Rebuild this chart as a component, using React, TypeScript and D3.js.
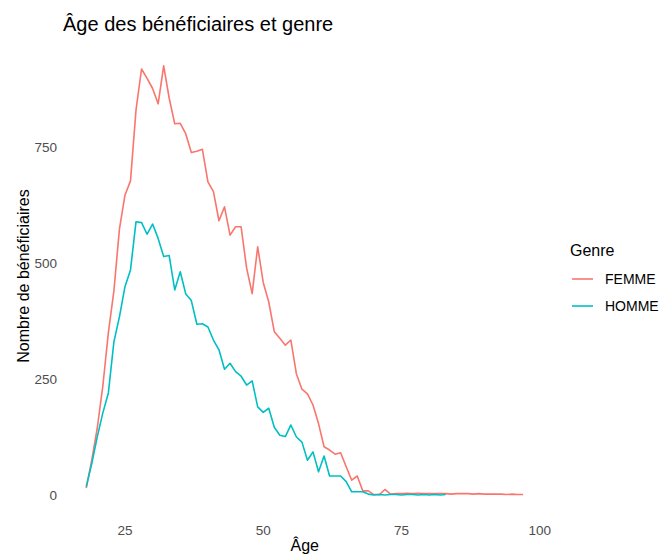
import React from "react";
import * as d3 from "d3";

// Nombre de bénéficiaires par âge
const femmeStartAge = 18;
const femmeValues = [
  15, 75, 145, 235, 350, 440, 573, 646, 677, 830, // 18-27
  918, 898, 876, 843, 925, 855, 800, 801, 778, 738, // 28-37
  741, 745, 675, 654, 591, 621, 560, 578, 578, 489, // 38-47
  434, 535, 458, 416, 352, 338, 323, 334, 261, 228, // 48-57
  218, 194, 154, 104, 97, 88, 91, 61, 32, 41, // 58-67
  9, 9, 1, 1, 12, 2, 3, 3, 4, 3, // 68-77
  4, 3, 3, 3, 3, 3, 2, 3, 3, 3, // 78-87
  2, 3, 2, 2, 2, 2, 1, 2, 1, 1, // 88-97
];

const hommeStartAge = 18;
const hommeValues = [
  18, 68, 126, 177, 220, 330, 384, 449, 485, 589, // 18-27
  587, 562, 584, 553, 514, 516, 442, 481, 433, 419, // 28-37
  368, 369, 362, 334, 313, 271, 284, 266, 256, 237, // 38-47
  246, 190, 178, 187, 146, 129, 126, 151, 125, 114, // 48-57
  75, 93, 50, 84, 41, 41, 41, 29, 7, 7, // 58-67
  7, 2, 0, 1, 0, 1, 1, 0, 1, 1, // 68-77
  0, 1, 0, 1, 0, 1, // 78-83
];

const genres = ["FEMME", "HOMME"];
const colors = ["#F8766D", "#00BFC4"];
const xTicks = [25, 50, 75, 100];
const yTicks = [0, 250, 500, 750];

type Pt = { age: number; n: number };

const toPoints = (start: number, vals: number[]): Pt[] =>
  vals.map((n, i) => ({ age: start + i, n }));

const series = [
  toPoints(femmeStartAge, femmeValues),
  toPoints(hommeStartAge, hommeValues),
];

const W = 659;
const H = 557;
const font = "'Liberation Sans', Arial, sans-serif";

const App: React.FC = () => {
  const all = series.flat();
  const [xmin, xmax] = d3.extent(all, (d) => d.age) as [number, number];
  const ymax = d3.max(all, (d) => d.n) as number;
  const ymin = 0;

  // ggplot-style 5% expansion
  const xpad = (xmax - xmin) * 0.05;
  const ypad = (ymax - ymin) * 0.05;

  const x = d3
    .scaleLinear()
    .domain([xmin - xpad, xmax + xpad])
    .range([64.4, 545]);
  const y = d3
    .scaleLinear()
    .domain([ymin - ypad, ymax + ypad])
    .range([516.5, 44.3]);

  const line = d3
    .line<Pt>()
    .x((d) => x(d.age))
    .y((d) => y(d.n));

  const panelMidX = (x.range()[0] + x.range()[1]) / 2;

  return (
    <svg
      width={W}
      height={H}
      style={{ position: "absolute", left: 0, top: 0, background: "#fff" }}
      fontFamily={font}
    >
      <rect width={W} height={H} fill="#fff" />

      {/* lines */}
      {series.map((s, i) => (
        <path
          key={genres[i]}
          d={line(s) || ""}
          fill="none"
          stroke={colors[i]}
          strokeWidth={1.6}
          strokeLinejoin="round"
        />
      ))}

      {/* y axis labels */}
      {yTicks.map((t) => (
        <text
          key={"y" + t}
          x={57}
          y={y(t)}
          dy="0.35em"
          textAnchor="end"
          fontSize={13.5}
          fill="#4D4D4D"
        >
          {t}
        </text>
      ))}

      {/* x axis labels */}
      {xTicks.map((t) => (
        <text
          key={"x" + t}
          x={x(t)}
          y={535}
          textAnchor="middle"
          fontSize={13.5}
          fill="#4D4D4D"
        >
          {t}
        </text>
      ))}

      {/* axis titles */}
      <text x={panelMidX} y={551} textAnchor="middle" fontSize={16} fill="#000">
        Âge
      </text>
      <text
        transform={`translate(28.5,276) rotate(-90)`}
        textAnchor="middle"
        fontSize={16}
        fill="#000"
      >
        Nombre de bénéficiaires
      </text>

      {/* title */}
      <text x={63} y={31} fontSize={20} fill="#000">
        Âge des bénéficiaires et genre
      </text>

      {/* legend */}
      <g>
        <text x={570} y={256} fontSize={16} fill="#000">
          Genre
        </text>
        {genres.map((g, i) => {
          const cy = 279 + i * 27;
          return (
            <g key={g}>
              <line
                x1={572}
                x2={593}
                y1={cy}
                y2={cy}
                stroke={colors[i]}
                strokeWidth={1.6}
              />
              <text x={605} y={cy} dy="0.35em" fontSize={14} fill="#000">
                {g}
              </text>
            </g>
          );
        })}
      </g>
    </svg>
  );
};

export default App;
